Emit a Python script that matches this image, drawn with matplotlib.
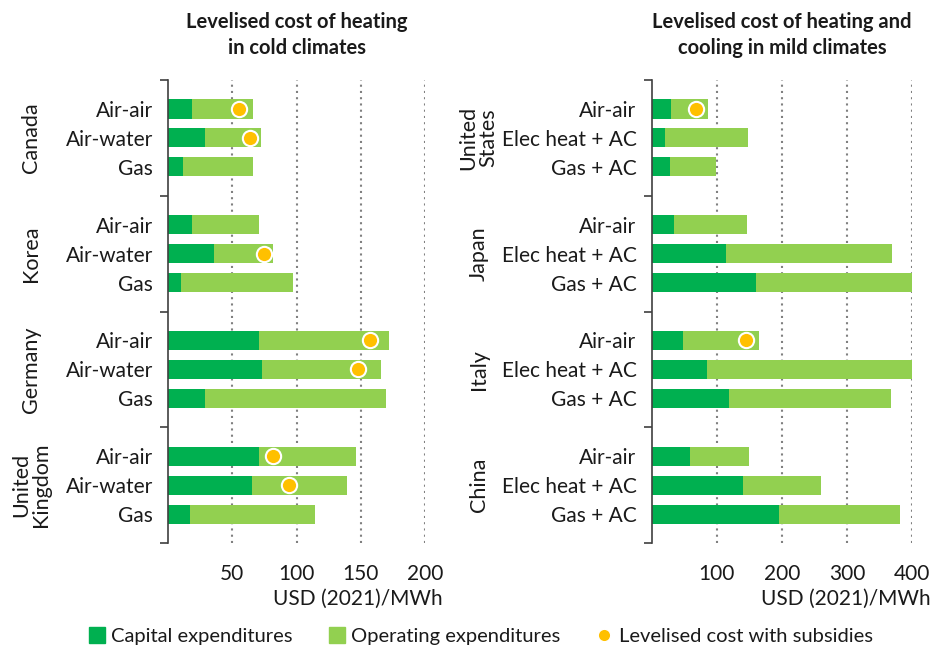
import numpy as np
import matplotlib
matplotlib.use("Agg")
import matplotlib.pyplot as plt
from matplotlib.lines import Line2D
from matplotlib.transforms import blended_transform_factory

plt.rcParams['font.family'] = ['Lato', 'DejaVu Sans']
plt.rcParams['font.size'] = 15

# cold climates (left panel)
cold_countries = ["Canada", "Korea", "Germany", "United\nKingdom"]
cold_techs = ["Air-air", "Air-water", "Gas"]
cold_capex = [19, 29, 12, 19, 36, 10, 71, 73, 29, 71, 65, 17]
cold_total = [66, 72, 66, 71, 81.5, 97, 172, 166, 170, 146, 139.5, 114]
cold_subsidy = [55, 64, None, None, 75, None, 157.5, 148, None, 82, 94, None]

# mild climates (right panel)
mild_countries = ["United\nStates", "Japan", "Italy", "China"]
mild_techs = ["Air-air", "Elec heat + AC", "Gas + AC"]
mild_capex = [30, 20, 28, 34, 114, 161, 48, 85, 119, 59, 140, 196]
mild_total = [86, 148, 98.5, 146, 369, 399.5, 164.5, 399.5, 367, 150, 260, 381]
mild_subsidy = [68, None, None, None, None, None, 144.5, None, None, None, None, None]

c_capex = "#00B050"
c_opex = "#92D050"
c_sub = "#FFC000"
txt = "#1a1a1a"

fig = plt.figure(figsize=(9.35, 6.5), dpi=100)


def draw_panel(rect, countries, techs, capex, total, subsidy, xmax, xticks,
               title, country_x):
    ax = fig.add_axes(rect)
    n = len(countries)
    ypos = []
    labels = []
    for g in range(n):
        for k in range(len(techs)):
            ypos.append(4 * g + k + 1)
            labels.append(techs[k])
    ypos = np.array(ypos)
    capex = np.array(capex, dtype=float)
    total = np.array(total, dtype=float)
    ax.barh(ypos, capex, height=0.66, color=c_capex, zorder=2)
    ax.barh(ypos, total - capex, left=capex, height=0.66, color=c_opex, zorder=2)
    for y, s in zip(ypos, subsidy):
        if s is not None:
            ax.plot(s, y, 'o', ms=11, mfc=c_sub, mec='white', mew=1.5, zorder=3)

    ax.set_xlim(0, xmax)
    ax.set_ylim(4 * n, 0)
    ax.set_xticks(xticks)
    ax.set_xticklabels([str(t) for t in xticks], color=txt)
    ax.tick_params(axis='x', length=0, pad=15, labelsize=15)
    ax.grid(axis='x', linestyle=(0, (1, 2)), color='#808080', lw=1.5, zorder=0)

    ax.set_yticks(np.arange(0, 4 * n + 1, 4))
    ax.set_yticklabels([])
    ax.tick_params(axis='y', which='major', length=6, width=1.2, color='#404040')
    ax.set_yticks(ypos, minor=True)
    ax.set_yticklabels(labels, minor=True, color=txt)
    ax.tick_params(axis='y', which='minor', length=0, pad=11, labelsize=15)

    for side in ['top', 'right', 'bottom']:
        ax.spines[side].set_visible(False)
    ax.spines['left'].set_color('#404040')
    ax.spines['left'].set_linewidth(1.2)

    tr = blended_transform_factory(fig.transFigure, ax.transData)
    for g, name in enumerate(countries):
        ax.text(country_x, 4 * g + 2, name, transform=tr, rotation=90,
                ha='center', va='center', fontsize=15.5, color=txt,
                linespacing=1.0)

    ax.text(0.5, 1.097, title, transform=ax.transAxes, ha='center', va='center',
            fontsize=14.5, fontweight='bold', color=txt, linespacing=1.35)
    ax.text(1.07, -0.12, "USD (2021)/MWh", transform=ax.transAxes,
            ha='right', va='center', fontsize=15, color=txt)
    return ax


draw_panel([0.1797, 0.1646, 0.2749, 0.7123], cold_countries, cold_techs,
           cold_capex, cold_total, cold_subsidy, 200, [50, 100, 150, 200],
           "Levelised cost of heating\nin cold climates", 0.033)
draw_panel([0.697, 0.1646, 0.2784, 0.7123], mild_countries, mild_techs,
           mild_capex, mild_total, mild_subsidy, 400, [100, 200, 300, 400],
           "Levelised cost of heating and\ncooling in mild climates", 0.512)

handles = [
    Line2D([], [], marker='s', ls='', ms=11, mfc=c_capex, mec=c_capex),
    Line2D([], [], marker='s', ls='', ms=11, mfc=c_opex, mec=c_opex),
    Line2D([], [], marker='o', ls='', ms=9, mfc=c_sub, mec='white', mew=1),
]
fig.legend(handles, ["Capital expenditures", "Operating expenditures",
                     "Levelised cost with subsidies"],
           loc='center', bbox_to_anchor=(0.513, 0.021), ncol=3, frameon=False,
           fontsize=14.5, handletextpad=0.2, columnspacing=1.7, handlelength=1.0,
           labelcolor=txt)

fig.savefig("out.png", dpi=100, facecolor='white')
